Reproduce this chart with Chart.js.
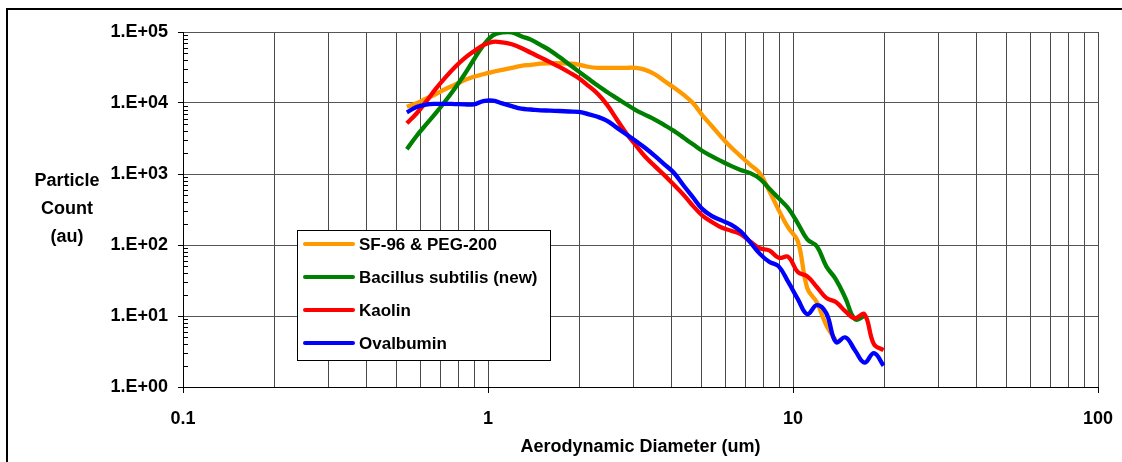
<!DOCTYPE html>
<html>
<head>
<meta charset="utf-8">
<script src="https://cdn.jsdelivr.net/npm/chart.js@4/dist/chart.umd.min.js"></script>
<style>
  html, body { margin: 0; padding: 0; background: #fff; }
  canvas { display: block; }
</style>
</head>
<body>
<canvas id="grafico" width="1122" height="462"></canvas>
<script>
/* ── DATOS ── diámetros de canal (um) y conteos */
var diametros = [0.542, 0.583, 0.626, 0.673, 0.723, 0.777, 0.835, 0.898, 0.965, 1.037,
  1.114, 1.197, 1.286, 1.382, 1.486, 1.596, 1.715, 1.843, 1.981, 2.129,
  2.288, 2.458, 2.642, 2.839, 3.051, 3.278, 3.523, 3.786, 4.068, 4.371,
  4.698, 5.048, 5.425, 5.829, 6.264, 6.732, 7.234, 7.774, 8.354, 8.977,
  9.647, 10.37, 11.14, 11.97, 12.86, 13.82, 14.86, 15.96, 17.15, 18.43, 19.81];

var sf96 = [8840, 9900, 11500, 13300, 15600, 18000, 20900, 23400, 25400, 27500,
  29300, 31300, 33400, 34500, 35900, 36300, 36500, 35900, 34800, 32400,
  31300, 31200, 31200, 31300, 31200, 29300, 25400, 20400, 16500, 13100,
  10000, 6710, 4700, 3300, 2380, 1790, 1350, 1030, 580, 310,
  175, 113, 24.6, 15.6, 7.4, 4.5, null, null, null, null, null];

var bacillus = [2230, 3430, 4960, 7140, 10500, 15900, 24800, 40700, 64600, 89600,
  98500, 99000, 87300, 78000, 65800, 55200, 44300, 35200, 27900, 22100,
  17600, 14300, 11700, 9590, 7960, 6820, 5840, 4890, 4050, 3260,
  2620, 2110, 1770, 1510, 1300, 1140, 1030, 861, 624, 455,
  329, 202, 120, 96, 50, 32.9, 17.8, 9.0, 9.9, null, null];

var kaolin = [5180, 7110, 10400, 15700, 22600, 31600, 42100, 53300, 65200, 72800,
  71600, 67100, 59600, 51000, 43900, 37700, 32200, 27100, 22500, 17600,
  13500, 9400, 5910, 3760, 2540, 1750, 1290, 964, 704, 513,
  356, 260, 211, 176, 159, 142, 112, 90, 84, 66,
  68, 41.5, 36.2, 25.6, 18, 15.7, 11.6, 9.3, 10.6, 4.0, 3.3];

var ovalbumin = [7400, 8790, 9460, 9710, 9740, 9660, 9560, 9540, 10600, 10800,
  9870, 9020, 8310, 8100, 7890, 7810, 7710, 7590, 7490, 6980,
  6390, 5600, 4500, 3620, 2920, 2320, 1800, 1370, 1040, 695,
  470, 320, 255, 222, 194, 156, 110, 75.6, 58, 50,
  30.2, 17.3, 10.6, 14.2, 10.9, 4.3, 5.0, 3.3, 2.2, 3.0, 2.0];

var nombres = ['SF-96 & PEG-200', 'Bacillus subtilis (new)', 'Kaolin', 'Ovalbumin'];

/* marcas de los ejes */
var ticksX = [0.1, 0.2, 0.3, 0.4, 0.5, 0.6, 0.7, 0.8, 0.9,
  1, 2, 3, 4, 5, 6, 7, 8, 9,
  10, 20, 30, 40, 50, 60, 70, 80, 90, 100];
var ticksY = [1, 10, 100, 1000, 10000, 100000];

var colores = ['#FF9900', '#008000', '#FF0000', '#0000FF'];
var FUENTE = "'Liberation Sans', Arial, sans-serif";

Chart.defaults.font.family = FUENTE;
Chart.defaults.font.weight = 'bold';
Chart.defaults.color = '#000';

/* convierte una serie en puntos {x, y} saltando huecos */
function puntos(serie) {
  var out = [];
  for (var i = 0; i < diametros.length; i++) {
    if (serie[i] != null) out.push({ x: diametros[i], y: serie[i] });
  }
  return out;
}

function esDecada(v) {
  var l = Math.log10(v);
  return Math.abs(l - Math.round(l)) < 1e-9;
}

/* marco exterior negro (izquierda y arriba) */
var marco = {
  id: 'marco',
  beforeDraw: function (chart) {
    var c = chart.ctx;
    c.save();
    c.strokeStyle = '#000';
    c.lineWidth = 2;
    c.beginPath();
    c.moveTo(7, 462);
    c.lineTo(7, 9);
    c.lineTo(1122, 9);
    c.stroke();
    c.restore();
  }
};

/* marcas menores del eje Y (hacia dentro) y título horizontal */
var ejeY = {
  id: 'ejeY',
  afterDraw: function (chart) {
    var c = chart.ctx;
    var y = chart.scales.y;
    var x0 = chart.chartArea.left;
    c.save();
    c.strokeStyle = '#000';
    c.lineWidth = 1;
    for (var d = 1; d < 100000; d *= 10) {
      for (var k = 2; k <= 9; k++) {
        var py = Math.round(y.getPixelForValue(d * k)) + 0.5;
        c.beginPath();
        c.moveTo(x0, py);
        c.lineTo(x0 + 5, py);
        c.stroke();
      }
    }
    c.font = 'bold 18px ' + FUENTE;
    c.fillStyle = '#000';
    c.textAlign = 'center';
    c.textBaseline = 'middle';
    c.fillText('Particle', 67, 181);
    c.fillText('Count', 67, 209);
    c.fillText('(au)', 67, 237);
    c.restore();
  }
};

/* leyenda en caja dentro del área del gráfico */
var leyenda = {
  id: 'leyenda',
  afterDraw: function (chart) {
    var c = chart.ctx;
    c.save();
    c.fillStyle = '#fff';
    c.fillRect(297, 230, 253, 130);
    c.strokeStyle = '#000';
    c.lineWidth = 1;
    c.strokeRect(297.5, 230.5, 253, 130);
    c.font = 'bold 17px ' + FUENTE;
    c.textBaseline = 'middle';
    c.textAlign = 'left';
    chart.data.datasets.forEach(function (ds, i) {
      var yy = 244 + i * 33;
      c.strokeStyle = ds.borderColor;
      c.lineWidth = 4;
      c.lineCap = 'round';
      c.beginPath();
      c.moveTo(305, yy);
      c.lineTo(353, yy);
      c.stroke();
      c.fillStyle = '#000';
      c.fillText(ds.label, 359, yy + 1);
    });
    c.restore();
  }
};

var series = [sf96, bacillus, kaolin, ovalbumin];

new Chart(document.getElementById('grafico'), {
  type: 'line',
  data: {
    datasets: series.map(function (s, i) {
      return {
        label: nombres[i],
        data: puntos(s),
        borderColor: colores[i],
        backgroundColor: colores[i],
        borderWidth: 4.3,
        pointRadius: 0,
        tension: 0.4,
        fill: false,
        order: series.length - i
      };
    })
  },
  options: {
    responsive: false,
    animation: false,
    devicePixelRatio: 1,
    layout: { padding: { left: 0, top: 32, right: 24, bottom: 0 } },
    plugins: {
      legend: { display: false },
      tooltip: { enabled: false }
    },
    scales: {
      x: {
        type: 'logarithmic',
        min: 0.1,
        max: 100,
        afterBuildTicks: function (s) {
          s.ticks = ticksX.map(function (v) { return { value: v }; });
        },
        afterFit: function (s) {
          s.height = 75;
          s.paddingLeft = 0;
          s.paddingRight = 0;
        },
        border: { color: '#000', width: 1 },
        grid: {
          color: '#4a4a4a',
          lineWidth: 1,
          tickLength: 6,
          tickColor: function (ctx) {
            return ctx.tick && esDecada(ctx.tick.value) ? '#000' : 'rgba(0,0,0,0)';
          }
        },
        ticks: {
          autoSkip: false,
          maxRotation: 0,
          padding: 15,
          font: { size: 18, weight: 'bold' },
          color: '#000',
          callback: function (v) {
            return esDecada(v) ? String(v) : '';
          }
        },
        title: {
          display: true,
          text: 'Aerodynamic Diameter (um)',
          font: { size: 18, weight: 'bold' },
          color: '#000',
          padding: { top: 0, bottom: 4 }
        }
      },
      y: {
        type: 'logarithmic',
        min: 1,
        max: 100000,
        afterBuildTicks: function (s) {
          s.ticks = ticksY.map(function (v) { return { value: v }; });
        },
        afterFit: function (s) {
          s.width = 183;
          s.paddingTop = 0;
          s.paddingBottom = 0;
        },
        border: { color: '#000', width: 1 },
        grid: {
          color: '#555',
          lineWidth: 1,
          tickLength: 5,
          tickColor: '#000'
        },
        ticks: {
          padding: 10,
          font: { size: 18, weight: 'bold' },
          color: '#000',
          callback: function (v) {
            var e = Math.round(Math.log10(v));
            return '1.E+' + (e < 10 ? '0' : '') + e;
          }
        }
      }
    }
  },
  plugins: [marco, ejeY, leyenda]
});
</script>
</body>
</html>
